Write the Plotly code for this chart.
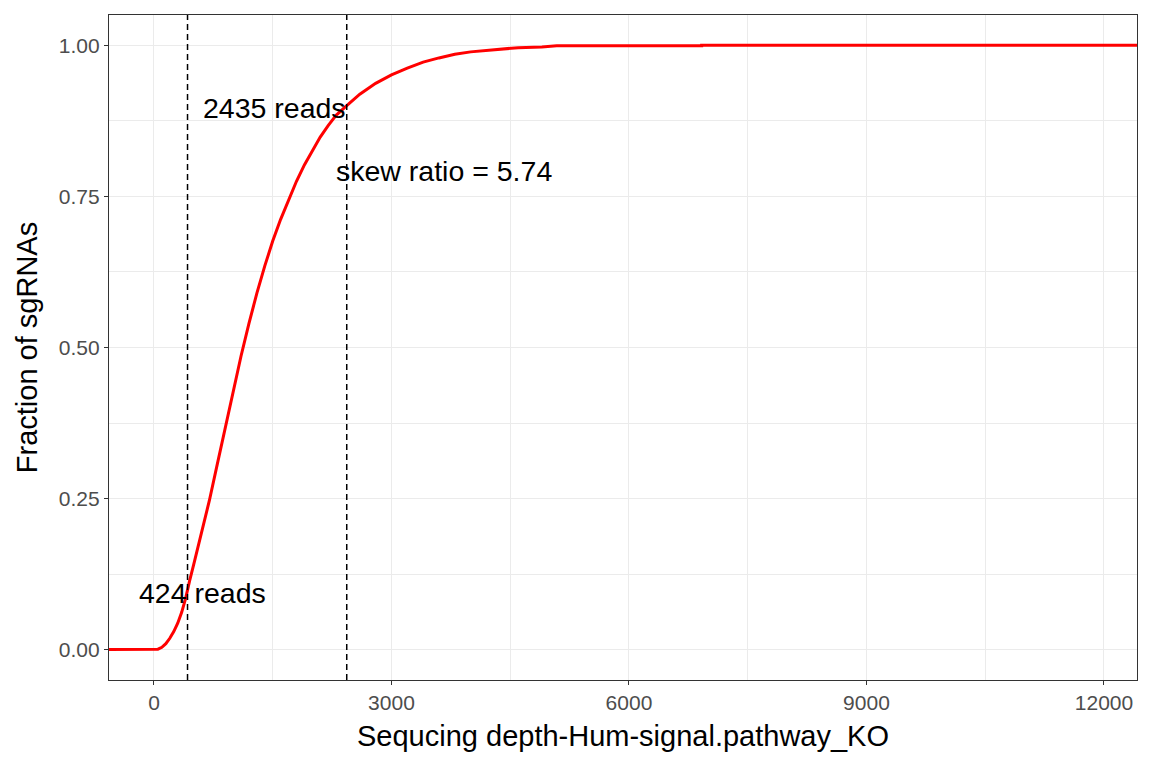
import plotly.graph_objects as go

# ECDF of sgRNA read counts
depth = [-1000, 0, 50, 100, 150, 200, 250, 300, 350, 400, 424, 450, 500, 550, 600,
         700, 800, 900, 1000, 1100, 1200, 1300, 1400, 1500, 1600, 1700, 1800, 1900,
         2000, 2100, 2200, 2300, 2435, 2600, 2800, 3000, 3200, 3400, 3600, 3800,
         4000, 4300, 4600, 4900, 5087, 5087, 6918, 6918, 13000]
fraction = [0, 0, 0.001, 0.004, 0.010, 0.019, 0.030, 0.044, 0.062, 0.085, 0.100,
            0.114, 0.140, 0.166, 0.192, 0.247, 0.307, 0.368, 0.428, 0.486, 0.540,
            0.590, 0.635, 0.676, 0.712, 0.745, 0.775, 0.802, 0.826, 0.848, 0.867,
            0.884, 0.900, 0.919, 0.937, 0.951, 0.962, 0.972, 0.979, 0.985, 0.989,
            0.993, 0.996, 0.997, 0.998, 0.999, 0.999, 1.0, 1.0]

cut_lines = [424, 2435]
labels = ["424 reads", "2435 reads", "skew ratio = 5.74"]
label_x = [610, 1522, 3663]
label_y = [0.094, 0.896, 0.792]

x_ticks = [0, 3000, 6000, 9000, 12000]
y_ticks = [0, 0.25, 0.5, 0.75, 1.0]
y_ticktext = ["0.00", "0.25", "0.50", "0.75", "1.00"]

FONT = "Arial, Liberation Sans, sans-serif"
GRID = "#EBEBEB"
DARK = "#333333"

fig = go.Figure()
fig.add_trace(go.Scatter(x=depth, y=fraction, mode="lines",
                         line=dict(color="#FF0000", width=3), showlegend=False,
                         hoverinfo="skip"))

for xv in cut_lines:
    fig.add_shape(type="line", xref="x", yref="paper", x0=xv, x1=xv, y0=0, y1=1,
                  line=dict(color="black", width=1.5, dash="6px,4px"))

for t, xv, yv in zip(labels, label_x, label_y):
    fig.add_annotation(x=xv, y=yv, xref="x", yref="y", text=t, showarrow=False,
                       font=dict(family=FONT, size=28.5, color="black"),
                       xanchor="center", yanchor="middle")

fig.update_layout(
    width=1152, height=768,
    margin=dict(l=101, r=23, t=7, b=96),
    paper_bgcolor="white", plot_bgcolor="white",
    font=dict(family=FONT, color="black"),
)
fig.update_xaxes(
    range=[-568, 12417], tickvals=x_ticks, ticktext=[str(v) for v in x_ticks],
    showgrid=True, gridcolor=GRID, gridwidth=1.1,
    minor=dict(dtick=1500, tick0=0, showgrid=True, gridcolor=GRID, gridwidth=0.6),
    showline=True, mirror=True, linecolor=DARK, linewidth=1.2,
    ticks="outside", ticklen=4, tickcolor=DARK, tickwidth=1.1,
    tickfont=dict(family=FONT, size=21, color="#4D4D4D"),
    title=dict(text="Sequcing depth-Hum-signal.pathway_KO",
               font=dict(family=FONT, size=29, color="black"), standoff=12),
    zeroline=False,
)
fig.update_yaxes(
    range=[-0.05, 1.05], tickvals=y_ticks, ticktext=y_ticktext,
    showgrid=True, gridcolor=GRID, gridwidth=1.1,
    minor=dict(dtick=0.125, tick0=0, showgrid=True, gridcolor=GRID, gridwidth=0.6),
    showline=True, mirror=True, linecolor=DARK, linewidth=1.2,
    ticks="outside", ticklen=4, tickcolor=DARK, tickwidth=1.1,
    tickfont=dict(family=FONT, size=21, color="#4D4D4D"),
    title=dict(text="Fraction of sgRNAs",
               font=dict(family=FONT, size=29, color="black"), standoff=12),
    zeroline=False,
)

fig.write_html("out.html")
